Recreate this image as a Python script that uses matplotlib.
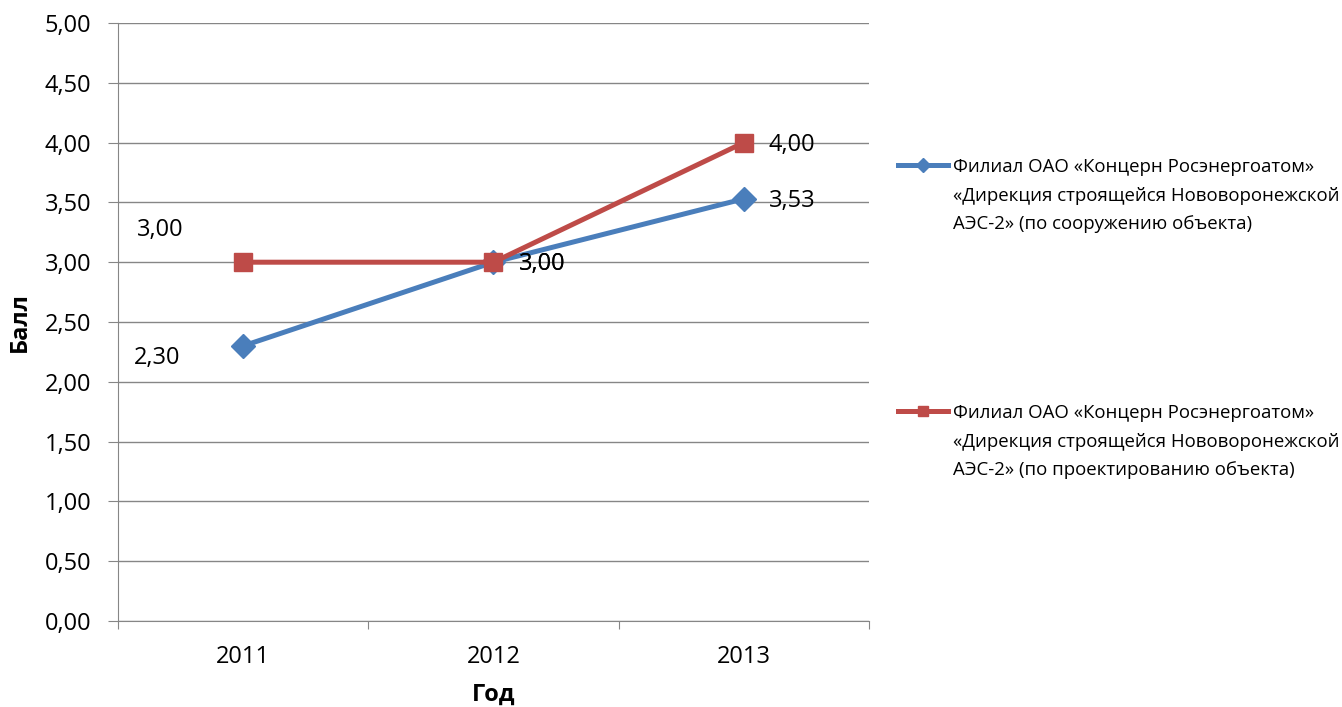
import matplotlib
matplotlib.use("Agg")
import matplotlib.pyplot as plt
from matplotlib.lines import Line2D

plt.rcParams['font.family'] = ['Open Sans', 'DejaVu Sans']

years = ["2011", "2012", "2013"]
construction = [2.30, 3.00, 3.53]
design = [3.00, 3.00, 4.00]
y_ticks = [0, 0.5, 1, 1.5, 2, 2.5, 3, 3.5, 4, 4.5, 5]
label_construction = ["Филиал ОАО «Концерн Росэнергоатом»",
                      "«Дирекция строящейся Нововоронежской",
                      "АЭС-2» (по сооружению объекта)"]
label_design = ["Филиал ОАО «Концерн Росэнергоатом»",
                "«Дирекция строящейся Нововоронежской",
                "АЭС-2» (по проектированию объекта)"]

W, H = 1342, 707
fig = plt.figure(figsize=(W / 100, H / 100), dpi=100)
ax = fig.add_axes([118 / W, (H - 621) / H, (869 - 118) / W, (621 - 23) / H])

blue = "#4A7EBB"
red = "#BE4B48"
grid = "#868686"
fs = 17
lfs = 13.4

x = list(range(len(years)))
ax.plot(x, construction, color=blue, lw=3.6, marker="D", ms=12, zorder=3)
ax.plot(x, design, color=red, lw=3.6, marker="s", ms=13.5, zorder=4)

ax.set_xlim(-0.5, len(years) - 0.5)
ax.set_ylim(0, 5)
ax.set_yticks(y_ticks)
ax.set_yticklabels([f"{v:.2f}".replace(".", ",") for v in y_ticks], fontsize=fs)
ax.yaxis.grid(True, color=grid, lw=1)
ax.set_axisbelow(True)
ax.set_xticks([i + 0.5 for i in range(-1, len(years))])
ax.set_xticklabels([])
ax.set_xticks(x, minor=True)
ax.set_xticklabels(years, minor=True, fontsize=fs)
ax.tick_params(axis="x", which="minor", length=0, pad=17)
ax.tick_params(axis="x", which="major", length=6, color=grid, direction="out")
ax.tick_params(axis="y", length=7, color=grid, direction="out", pad=12)
for s in ["top", "right"]:
    ax.spines[s].set_visible(False)
for s in ["left", "bottom"]:
    ax.spines[s].set_color(grid)

ax.set_ylabel("Балл", fontsize=fs, fontweight="bold", labelpad=9)
ax.set_xlabel("Год", fontsize=fs, fontweight="bold", labelpad=10)

def fmt(v):
    return f"{v:.2f}".replace(".", ",")

k = 72 / 100
ax.annotate(fmt(construction[0]), (0, construction[0]), xytext=(-86 * k, -12 * k),
            textcoords="offset points", ha="center", va="center", fontsize=fs)
ax.annotate(fmt(design[0]), (0, design[0]), xytext=(-83 * k, 32 * k),
            textcoords="offset points", ha="center", va="center", fontsize=fs)
for i in [1, 2]:
    ax.annotate(fmt(construction[i]), (i, construction[i]), xytext=(25 * k, -2 * k),
                textcoords="offset points", ha="left", va="center", fontsize=fs)
    ax.annotate(fmt(design[i]), (i, design[i]), xytext=(25 * k, -2 * k),
                textcoords="offset points", ha="left", va="center", fontsize=fs)

h1 = Line2D([], [], color=blue, lw=3.6, marker="D", ms=7)
h2 = Line2D([], [], color=red, lw=3.6, marker="s", ms=7)
blank = Line2D([], [], linestyle="none")
kw = dict(frameon=False, fontsize=lfs, handlelength=2.7, handletextpad=0.27,
          borderaxespad=0, borderpad=0, loc="upper left", labelspacing=0.57)
leg1 = fig.legend([h1, blank, blank], label_construction,
                  bbox_to_anchor=(898 / W, 1 - 158 / H), **kw)
leg2 = fig.legend([h2, blank, blank], label_design,
                  bbox_to_anchor=(898 / W, 1 - 404 / H), **kw)

fig.savefig("out.png", dpi=100)
